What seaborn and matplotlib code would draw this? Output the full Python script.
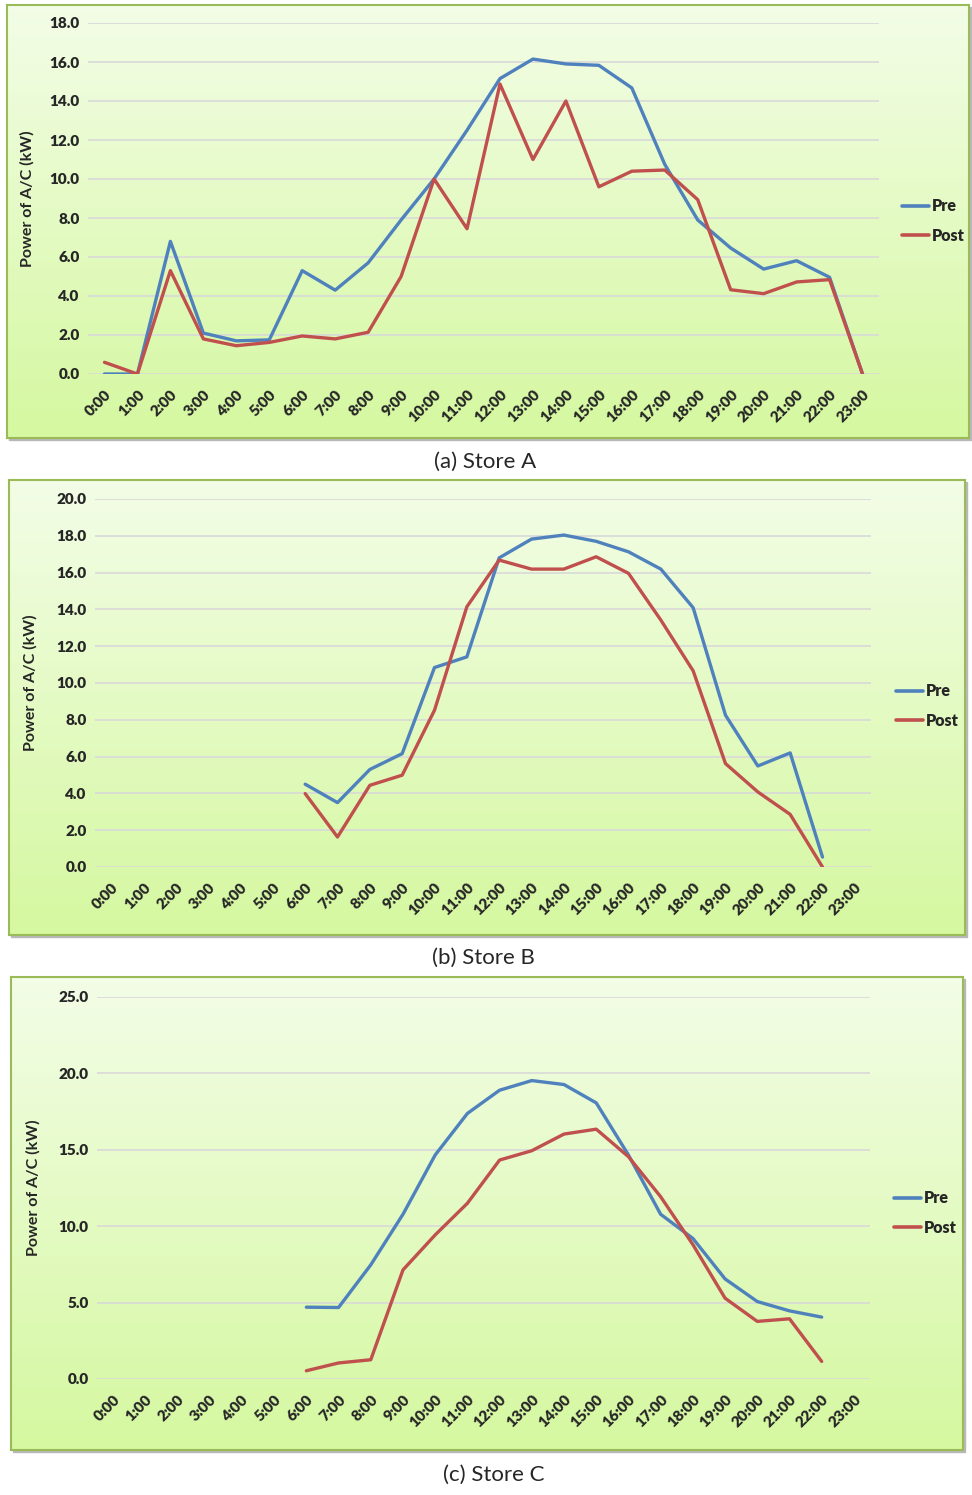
import numpy as np
import pandas as pd
import seaborn as sb
import matplotlib.pyplot as plt
import matplotlib.colors
from matplotlib.patches import Rectangle

sb.set_style("white")
plt.rcParams['font.family'] = ['Lato', 'DejaVu Sans']

nan = np.nan

#hours on the x axis
hours = ["%d:00" % h for h in range(24)]

#Store A
preA = [0.0, 0.0, 6.8, 2.1, 1.7, 1.75, 5.3, 4.3, 5.7, 7.9, 10.0, 12.5,
        15.15, 16.15, 15.9, 15.83, 14.67, 10.75, 7.9, 6.46, 5.38, 5.81, 4.96, 0.0]
postA = [0.6, 0.0, 5.3, 1.8, 1.45, 1.62, 1.95, 1.8, 2.14, 5.0, 10.0, 7.45,
         14.87, 11.0, 14.0, 9.6, 10.4, 10.46, 8.94, 4.32, 4.12, 4.72, 4.84, 0.0]

#Store B
preB = [nan, nan, nan, nan, nan, nan, 4.5, 3.5, 5.3, 6.16, 10.84, 11.42,
        16.8, 17.82, 18.04, 17.7, 17.13, 16.19, 14.09, 8.25, 5.49, 6.2, 0.54, nan]
postB = [nan, nan, nan, nan, nan, nan, 3.99, 1.63, 4.44, 4.99, 8.52, 14.14,
         16.68, 16.19, 16.19, 16.86, 15.96, 13.42, 10.66, 5.62, 4.08, 2.86, 0.0, nan]

#Store C
preC = [nan, nan, nan, nan, nan, nan, 4.7, 4.68, 7.47, 10.78, 14.66, 17.38,
        18.9, 19.53, 19.27, 18.07, 14.66, 10.78, 9.2, 6.55, 5.07, 4.46, 4.05, nan]
postC = [nan, nan, nan, nan, nan, nan, 0.54, 1.05, 1.26, 7.14, 9.43, 11.5,
         14.33, 14.94, 16.03, 16.35, 14.55, 11.93, 8.8, 5.29, 3.77, 3.94, 1.15, nan]

captions = ["(a) Store A", "(b) Store B", "(c) Store C"]
ymaxes = [18, 20, 25]
ysteps = [2, 2, 5]

W, H = 972, 1495
fig = plt.figure(figsize=(W / 100, H / 100), dpi=100)

def px_rect(x0, y0, x1, y1):
    #pixel box (top-left origin) -> figure fraction rect
    return [x0 / W, 1 - y1 / H, (x1 - x0) / W, (y1 - y0) / H]

#panel layout in pixels: box, plot area, legend anchor, caption
boxes = [(7, 5, 969, 438), (9, 480, 965, 935), (11, 977, 963, 1450)]
areas = [(88, 23, 879, 374), (95, 499, 871, 867), (97, 997, 870, 1379)]
legpos = [(894, 221), (888, 706), (886, 1213)]
cappos = [(485, 462), (483, 958), (494, 1475)]

grad = matplotlib.colors.LinearSegmentedColormap.from_list("g", ["#f3fde7", "#d5f8a0"])
palette = {"Pre": "#4f81bd", "Post": "#c0504d"}

series = [(preA, postA), (preB, postB), (preC, postC)]

for i in range(3):
    bx = boxes[i]
    #shadow behind the box
    fig.patches.append(Rectangle((bx[0] / W + 2 / W, 1 - bx[3] / H - 2 / H),
                                 (bx[2] - bx[0]) / W, (bx[3] - bx[1]) / H,
                                 transform=fig.transFigure, color="#b8b8b8", zorder=0))
    bax = fig.add_axes(px_rect(*bx), zorder=1)
    bax.imshow(np.linspace(0, 1, 256).reshape(-1, 1), cmap=grad, aspect='auto',
               extent=(0, 1, 0, 1), origin='upper')
    bax.set_xticks([])
    bax.set_yticks([])
    for s in bax.spines.values():
        s.set_color("#9bbb59")
        s.set_linewidth(1.5)

    ax = fig.add_axes(px_rect(*areas[i]), zorder=2)
    ax.set_facecolor("none")
    pre, post = series[i]
    df = pd.DataFrame({"hour": list(range(24)) * 2,
                       "kW": pre + post,
                       "Series": ["Pre"] * 24 + ["Post"] * 24})
    df = df.dropna()
    sb.lineplot(data=df, x="hour", y="kW", hue="Series", palette=palette,
                linewidth=2.4, ax=ax, legend=False)

    ax.set_xlim(-0.5, 23.5)
    ax.set_ylim(0, ymaxes[i])
    ax.set_yticks(np.arange(0, ymaxes[i] + 0.01, ysteps[i]))
    ax.set_yticklabels(["%.1f" % v for v in np.arange(0, ymaxes[i] + 0.01, ysteps[i])],
                       fontweight="heavy", fontsize=11)
    ax.set_xticks(range(24))
    ax.set_xticklabels(hours, rotation=45, ha="right", rotation_mode="anchor",
                       fontweight="heavy", fontsize=11)
    ax.tick_params(length=0, pad=6)
    ax.tick_params(axis='x', pad=10)
    ax.grid(axis='y', color="#d9d9d9", linewidth=1.2)
    ax.set_axisbelow(True)
    for s in ax.spines.values():
        s.set_visible(False)
    ax.set_xlabel("")
    ax.set_ylabel("Power of A/C (kW)", fontsize=11.5, fontweight="bold")
    ax.yaxis.set_label_coords((35 + i * 3 - areas[i][0]) / (areas[i][2] - areas[i][0]), 0.5)

    handles = [plt.Line2D([], [], color=palette[k], linewidth=2.6) for k in ["Pre", "Post"]]
    lx, ly = legpos[i]
    fig.legend(handles, ["Pre", "Post"], loc="center left",
               bbox_to_anchor=(lx / W, 1 - ly / H), frameon=False,
               prop={"weight": "heavy", "size": 11.5}, handlelength=1.7,
               handletextpad=0.15, labelspacing=0.85, borderpad=0)

    cx, cy = cappos[i]
    fig.text(cx / W, 1 - cy / H, captions[i], ha="center", va="center", fontsize=16)

plt.savefig("out.png", dpi=100)
